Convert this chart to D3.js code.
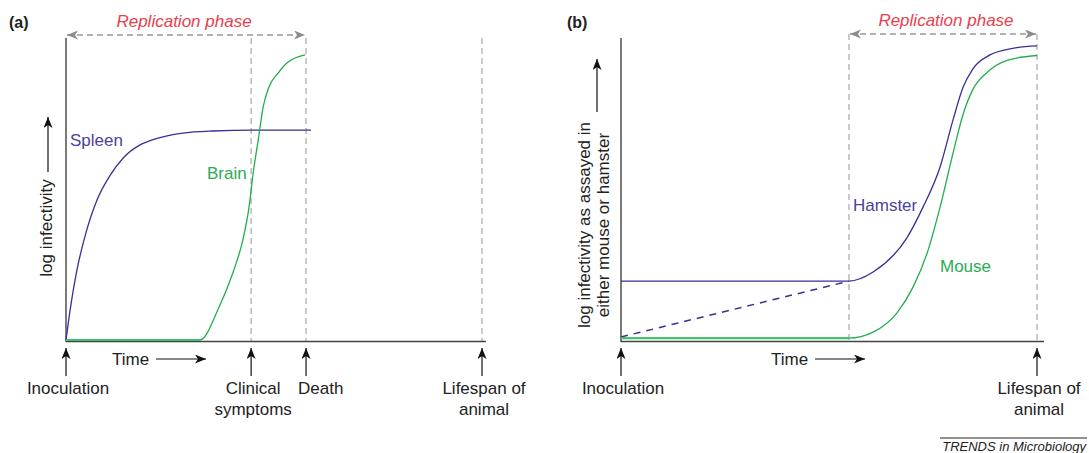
<!DOCTYPE html>
<html>
<head>
<meta charset="utf-8">
<script src="https://cdn.jsdelivr.net/npm/d3@7"></script>
<style>
  body { margin: 0; background: #fff; }
  svg { display: block; font-family: "Liberation Sans", Arial, sans-serif; }
</style>
</head>
<body>
<div id="chart"></div>
<script>
// time and log infectivity are both in arbitrary units 0..100

// panel (a): events on the time axis
const eventsA = [
  { t: 0, lines: ["Inoculation"] },
  { t: 44.5, lines: ["Clinical", "symptoms"] },
  { t: 57.7, lines: ["Death"], anchor: "start" },
  { t: 100, lines: ["Lifespan of", "animal"] },
];
const spleenT = [0, 1.0, 2.6, 4.6, 7.5, 10.6, 13.7, 17.8, 20.2, 24.3, 28.1, 35.3, 45.0, 58.9];
const spleenV = [0, 10.0, 23.0, 34.5, 46.5, 54.5, 60.2, 64.6, 66.0, 67.6, 68.5, 69.2, 69.5, 69.5];
const brainT = [0, 32.2, 36.8, 40.1, 42.5, 44.0, 45.0, 46.2, 47.4, 48.8, 51.0, 53.1, 57.5];
const brainV = [0, 0, 10.9, 22.2, 33.1, 44.0, 55.3, 66.2, 77.2, 83.8, 88.4, 91.7, 94.4];

// panel (b)
const eventsB = [
  { t: 0, lines: ["Inoculation"] },
  { t: 100, lines: ["Lifespan of", "animal"] },
];
const replicationStartB = 54.8;
const hamsterT = [0, 54.8, 60.6, 68.8, 72.6, 76.7, 79.8, 82.2, 84.6, 88.7, 94.2, 100];
const hamsterV = [19.5, 19.5, 22.5, 34.0, 44.0, 57.3, 72.8, 83.6, 89.8, 94.4, 96.6, 97.4];
const mouseT = [0, 54.8, 60.6, 66.3, 70.2, 73.6, 76.7, 79.8, 82.2, 84.6, 88.0, 92.8, 100];
const mouseV = [0.6, 0.6, 2.6, 8.9, 17.5, 28.8, 44.0, 61.8, 74.6, 83.0, 88.6, 92.6, 94.2];
const hamsterDashedT = [0, 54.8];
const hamsterDashedV = [1.0, 19.5];

const purple = "#3b2f94";
const purpleText = "#4c4199";
const green = "#22ad4e";
const greenText = "#2aab55";
const red = "#e8404c";
const grey = "#a8a8a8";

const width = 1089, height = 453;
const svg = d3.select("#chart").append("svg").attr("width", width).attr("height", height);

// arrow heads
const defs = svg.append("defs");
function addMarker(id, color) {
  defs.append("marker")
    .attr("id", id)
    .attr("markerUnits", "userSpaceOnUse")
    .attr("markerWidth", 12).attr("markerHeight", 10)
    .attr("refX", 11).attr("refY", 4.5)
    .attr("orient", "auto-start-reverse")
    .append("path")
    .attr("d", "M0,0 L11,4.5 L0,9 L3,4.5 Z")
    .attr("fill", color);
}
addMarker("head-black", "#111");
addMarker("head-grey", "#8c8c8c");

const zip = (ts, vs) => ts.map((t, i) => ({ t, v: vs[i] }));

function drawPanel(opt) {
  const x = d3.scaleLinear().domain([0, 100]).range(opt.xRange);
  const y = d3.scaleLinear().domain([0, 100]).range([340, 38]);
  const g = svg.append("g");
  const x0 = opt.xRange[0];

  // panel letter
  g.append("text").attr("x", opt.letterX).attr("y", 28)
    .style("font-size", "16px").style("font-weight", "bold").attr("fill", "#222")
    .text(opt.letter);

  // dashed guide lines
  opt.guides.forEach((t) => {
    g.append("line")
      .attr("x1", x(t)).attr("x2", x(t))
      .attr("y1", opt.guideTop).attr("y2", 341)
      .attr("stroke", grey).attr("stroke-width", 1.2)
      .attr("stroke-dasharray", "6,4");
  });

  // replication phase arrow
  const [r0, r1] = opt.replication;
  g.append("line")
    .attr("x1", x(r0) + 1).attr("x2", x(r1) - 1)
    .attr("y1", opt.repY).attr("y2", opt.repY)
    .attr("stroke", "#999").attr("stroke-width", 1.4)
    .attr("stroke-dasharray", "6,4")
    .attr("marker-start", "url(#head-grey)")
    .attr("marker-end", "url(#head-grey)");
  g.append("text")
    .attr("x", (x(r0) + x(r1)) / 2 + opt.repDx).attr("y", opt.repY - 8)
    .attr("text-anchor", "middle")
    .style("font-size", "17px").style("font-style", "italic")
    .attr("fill", red)
    .text("Replication phase");

  // axes
  g.append("line").attr("x1", x0).attr("x2", x0).attr("y1", 38).attr("y2", 342)
    .attr("stroke", "#333").attr("stroke-width", 1.3);
  g.append("line").attr("x1", x0).attr("x2", opt.axisEnd).attr("y1", 341.5).attr("y2", 341.5)
    .attr("stroke", "#444").attr("stroke-width", 1.6);

  // curves
  const line = d3.line().x((d) => x(d.t)).y((d) => y(d.v)).curve(d3.curveMonotoneX);
  opt.series.forEach((s) => {
    g.append("path")
      .datum(zip(s.t, s.v))
      .attr("fill", "none")
      .attr("stroke", s.color)
      .attr("stroke-width", s.w || 1.3)
      .attr("stroke-dasharray", s.dash || null)
      .attr("d", line);
  });

  // series labels
  opt.labels.forEach((l) => {
    g.append("text").attr("x", l.x).attr("y", l.y)
      .style("font-size", "17px").attr("fill", l.color).text(l.text);
  });

  // y axis title
  const yt = g.append("text")
    .attr("transform", `translate(${opt.yTitleX},${opt.yTitleY}) rotate(-90)`)
    .attr("text-anchor", "middle")
    .style("font-size", "17px").attr("fill", "#222");
  opt.yTitle.forEach((s, i) => {
    yt.append("tspan").attr("x", 0).attr("dy", i === 0 ? 0 : 19).text(s);
  });
  g.append("line")
    .attr("x1", opt.yArrowX).attr("x2", opt.yArrowX)
    .attr("y1", opt.yArrow[0]).attr("y2", opt.yArrow[1])
    .attr("stroke", "#111").attr("stroke-width", 1.2)
    .attr("marker-end", "url(#head-black)");

  // time arrow
  g.append("text").attr("x", opt.timeX).attr("y", 365)
    .style("font-size", "17px").attr("fill", "#222").text("Time");
  g.append("line")
    .attr("x1", opt.timeX + 44).attr("x2", opt.timeX + 94)
    .attr("y1", 359).attr("y2", 359)
    .attr("stroke", "#111").attr("stroke-width", 1.2)
    .attr("marker-end", "url(#head-black)");

  // event arrows and labels
  opt.events.forEach((e) => {
    const ex = x(e.t);
    g.append("line")
      .attr("x1", ex).attr("x2", ex).attr("y1", 376).attr("y2", 348)
      .attr("stroke", "#111").attr("stroke-width", 1.2)
      .attr("marker-end", "url(#head-black)");
    const tx = e.anchor === "start" ? ex - 8 : ex + 2;
    e.lines.forEach((s, i) => {
      g.append("text")
        .attr("x", tx).attr("y", 394 + i * 21)
        .attr("text-anchor", e.anchor || "middle")
        .style("font-size", "17px").attr("fill", "#222")
        .text(s);
    });
  });
}

drawPanel({
  letter: "(a)", letterX: 9,
  xRange: [66, 482], axisEnd: 486,
  guides: [eventsA[1].t, eventsA[2].t, eventsA[3].t], guideTop: 38,
  replication: [eventsA[0].t, eventsA[2].t], repY: 35, repDx: -2,
  series: [
    { t: spleenT, v: spleenV, color: purple },
    { t: brainT, v: brainV, color: green },
    { t: [0, brainT[1]], v: [0, 0], color: "#3fbf6a", w: 2 },
  ],
  labels: [
    { text: "Spleen", x: 70, y: 146, color: purpleText },
    { text: "Brain", x: 207, y: 179, color: greenText },
  ],
  yTitle: ["log infectivity"], yTitleX: 52, yTitleY: 228,
  yArrowX: 48, yArrow: [172, 117],
  timeX: 112,
  events: eventsA,
});

drawPanel({
  letter: "(b)", letterX: 567,
  xRange: [621, 1037], axisEnd: 1044,
  guides: [replicationStartB, 100], guideTop: 34,
  replication: [replicationStartB, 100], repY: 34, repDx: 3,
  series: [
    { t: hamsterDashedT, v: hamsterDashedV, color: purple, dash: "7,6", w: 1.5 },
    { t: hamsterT, v: hamsterV, color: purple },
    { t: mouseT, v: mouseV, color: green },
    { t: [0, replicationStartB], v: [mouseV[0], mouseV[1]], color: "#3fbf6a", w: 2 },
  ],
  labels: [
    { text: "Hamster", x: 853, y: 211, color: purpleText },
    { text: "Mouse", x: 940, y: 272, color: greenText },
  ],
  yTitle: ["log infectivity as assayed in", "either mouse or hamster"], yTitleX: 590, yTitleY: 225,
  yArrowX: 597, yArrow: [112, 59],
  timeX: 771,
  events: eventsB,
});

// journal credit
svg.append("line").attr("x1", 940).attr("x2", 1087).attr("y1", 438).attr("y2", 438)
  .attr("stroke", "#222").attr("stroke-width", 1);
svg.append("text").attr("x", 1086).attr("y", 451).attr("text-anchor", "end")
  .style("font-size", "13px").style("font-style", "italic").attr("fill", "#222")
  .text("TRENDS in Microbiology");
</script>
</body>
</html>
